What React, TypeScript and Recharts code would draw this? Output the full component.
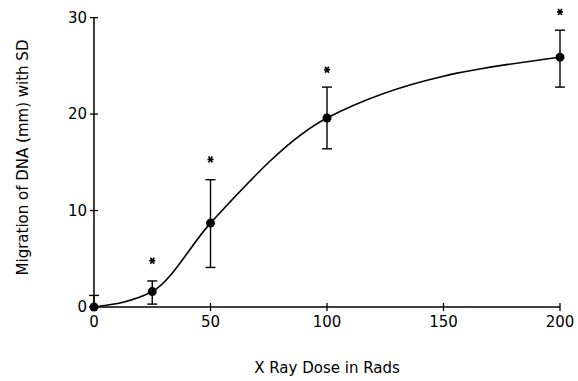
import { ComposedChart, Line, Scatter, XAxis, YAxis, ErrorBar, ReferenceLine, Label } from "recharts";

// X-ray dose (rads) vs DNA migration (mm), mean with SD
const doses = [0, 25, 50, 100, 200];
const migration = [0, 1.6, 8.7, 19.6, 25.9];
const sdLow = [0, 1.3, 4.6, 3.2, 3.1];
const sdHigh = [1.2, 1.1, 4.5, 3.2, 2.8];
// significance marks drawn above the error bars
const starMarks = [null, 4.8, 15.3, 24.6, 30.6];
const xTicks = [0, 50, 100, 150, 200];
const yTicks = [0, 10, 20, 30];

const rows = doses.map((dose, i) => ({
  dose,
  mean: migration[i],
  sd: [sdLow[i], sdHigh[i]],
  star: starMarks[i],
}));
const starRows = rows.filter((r) => r.star != null);

const FONT = "DejaVu Sans";

function XTick({ x, y, payload }: any) {
  return (
    <g>
      <line x1={x} x2={x} y1={y - 4} y2={y + 4} stroke="#000" strokeWidth={1.3} />
      <text x={x} y={y + 20} textAnchor="middle" fontFamily={FONT} fontSize={15} fill="#000">
        {payload.value}
      </text>
    </g>
  );
}

function YTick({ x, y, payload }: any) {
  return (
    <g>
      <line x1={x - 4} x2={x + 4} y1={y} y2={y} stroke="#000" strokeWidth={1.3} />
      <text x={x - 7} y={y + 5} textAnchor="end" fontFamily={FONT} fontSize={15} fill="#000">
        {payload.value}
      </text>
    </g>
  );
}

function Dot({ cx, cy }: any) {
  if (cx == null || cy == null) return null;
  return <circle cx={cx} cy={cy} r={4.5} fill="#000" />;
}

function Star({ cx, cy }: any) {
  if (cx == null || cy == null) return null;
  return (
    <g stroke="#000" strokeWidth={1.7}>
      <line x1={cx - 3} x2={cx + 3} y1={cy} y2={cy} />
      <line x1={cx - 1.8} x2={cx + 1.8} y1={cy - 3} y2={cy + 3} />
      <line x1={cx + 1.8} x2={cx - 1.8} y1={cy - 3} y2={cy + 3} />
    </g>
  );
}

export default function App() {
  return (
    <div style={{ position: "fixed", left: 0, top: 0, background: "#fff" }}>
      <ComposedChart
        width={578}
        height={381}
        data={rows}
        margin={{ top: 8, right: 18, bottom: 0, left: 0 }}
      >
        <XAxis
          dataKey="dose"
          type="number"
          domain={[0, 200]}
          ticks={xTicks}
          height={74}
          tickSize={0}
          tickMargin={0}
          tick={<XTick />}
          stroke="#000"
          strokeWidth={1.5}
        >
          <Label
            value="X Ray Dose in Rads"
            position="insideBottom"
            offset={8}
            style={{ fontFamily: FONT, fontSize: 15, fill: "#000" }}
          />
        </XAxis>
        <YAxis
          type="number"
          domain={[0, 31]}
          ticks={yTicks}
          width={94}
          tickSize={0}
          tickMargin={0}
          axisLine={false}
          tick={<YTick />}
        >
          <Label
            value="Migration of DNA (mm) with SD"
            angle={-90}
            position="insideLeft"
            offset={23}
            style={{ fontFamily: FONT, fontSize: 15, fill: "#000", textAnchor: "middle" }}
          />
        </YAxis>
        <ReferenceLine
          segment={[
            { x: 0, y: 0 },
            { x: 0, y: 30 },
          ]}
          stroke="#000"
          strokeWidth={1.5}
        />
        <Line
          dataKey="mean"
          type="monotone"
          stroke="#000"
          strokeWidth={1.6}
          dot={<Dot />}
          activeDot={false}
          isAnimationActive={false}
        >
          <ErrorBar dataKey="sd" width={5} stroke="#000" strokeWidth={1.4} direction="y" />
        </Line>
        <Scatter data={starRows} dataKey="star" shape={<Star />} isAnimationActive={false} />
      </ComposedChart>
    </div>
  );
}
